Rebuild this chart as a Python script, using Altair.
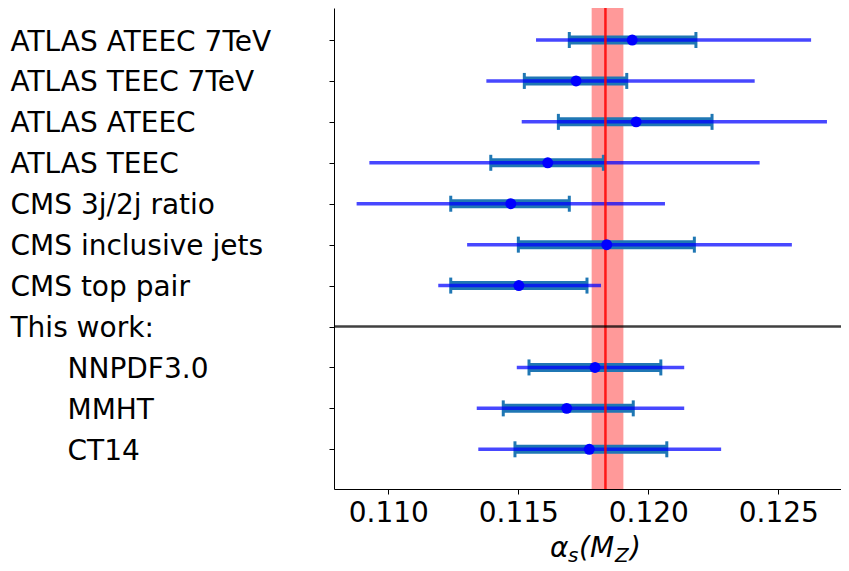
import json
import altair as alt
import pandas as pd

# ---- data ----
row_labels = ["ATLAS ATEEC 7TeV", "ATLAS TEEC 7TeV", "ATLAS ATEEC", "ATLAS TEEC",
              "CMS 3j/2j ratio", "CMS inclusive jets", "CMS top pair", "This work:",
              "NNPDF3.0", "MMHT", "CT14"]
sub_rows = ["NNPDF3.0", "MMHT", "CT14"]
separator_row = "This work:"

meas_names = ["ATLAS ATEEC 7TeV", "ATLAS TEEC 7TeV", "ATLAS ATEEC", "ATLAS TEEC",
              "CMS 3j/2j ratio", "CMS inclusive jets", "CMS top pair",
              "NNPDF3.0", "MMHT", "CT14"]
central = [0.11938, 0.11722, 0.11953, 0.11613, 0.11471, 0.11840, 0.11502, 0.11795, 0.11686, 0.11773]
inner_lo = [0.11696, 0.11523, 0.11654, 0.11394, 0.11240, 0.11500, 0.11240, 0.11541, 0.11442, 0.11487]
inner_hi = [0.12183, 0.11917, 0.12245, 0.11827, 0.11696, 0.12177, 0.11764, 0.12048, 0.11942, 0.12071]
outer_lo = [0.11568, 0.11377, 0.11513, 0.10927, 0.10878, 0.11303, 0.11192, 0.11494, 0.11340, 0.11346]
outer_hi = [0.12626, 0.12409, 0.12687, 0.12428, 0.12064, 0.12552, 0.11818, 0.12138, 0.12138, 0.12280]

world_avg = 0.11835
world_lo = 0.11782
world_hi = 0.11904

x_ticks = [0.110, 0.115, 0.120, 0.125]
x_domain = [0.10791, 0.12741]

df = pd.DataFrame({
    "name": meas_names,
    "row": [row_labels.index(n) for n in meas_names],
    "c": central, "ilo": inner_lo, "ihi": inner_hi, "olo": outer_lo, "ohi": outer_hi,
})
band_df = pd.DataFrame({"lo": [world_lo], "hi": [world_hi], "c": [world_avg]})
sep_df = pd.DataFrame({"row": [row_labels.index(separator_row)]})

# ---- styling ----
FONT = "DejaVu Sans"
W, H = 507, 481
y_domain = [-0.782, 10.97]

label_arr = "[" + ",".join(json.dumps(l) for l in row_labels) + "]"
sub_idx = [row_labels.index(s) for s in sub_rows]
sub_test = " || ".join(f"datum.value == {i}" for i in sub_idx)

xs = alt.Scale(domain=x_domain, nice=False, zero=False)
ys = alt.Scale(domain=y_domain, nice=False, zero=False, reverse=True)

x_axis = alt.Axis(values=x_ticks, format=".3f", title="", grid=False,
                  labelFont=FONT, labelFontSize=28, labelColor="black",
                  labelPadding=5, tickSize=5, tickColor="black", domainColor="black",
                  labelFlush=False)
y_axis = alt.Axis(values=list(range(len(row_labels))), labelExpr=label_arr + "[datum.value]",
                  title="", grid=False, labelFont=FONT, labelFontSize=28, labelColor="black",
                  labelAlign="left", labelBaseline="middle", labelOffset=2,
                  labelPadding={"condition": {"test": sub_test, "value": 262}, "value": 319},
                  tickSize=5, tickColor="black", domainColor="black", labelLimit=400)

base = alt.Chart(df)

band = alt.Chart(band_df).mark_rect(color="#ff0000", opacity=0.4).encode(
    x=alt.X("lo:Q", scale=xs, axis=x_axis), x2="hi:Q")

thick = base.mark_rule(color="#1f77b4", strokeWidth=9).encode(
    x=alt.X("ilo:Q", scale=xs), x2="ihi:Q",
    y=alt.Y("row:Q", scale=ys, axis=y_axis))
caps_lo = base.mark_tick(orient="vertical", color="#1f77b4", size=16, thickness=3, opacity=1).encode(
    x=alt.X("ilo:Q", scale=xs), y=alt.Y("row:Q", scale=ys))
caps_hi = base.mark_tick(orient="vertical", color="#1f77b4", size=16, thickness=3, opacity=1).encode(
    x=alt.X("ihi:Q", scale=xs), y=alt.Y("row:Q", scale=ys))
thin = base.mark_rule(color="#0000ff", strokeWidth=3.5, opacity=0.72).encode(
    x=alt.X("olo:Q", scale=xs), x2="ohi:Q", y=alt.Y("row:Q", scale=ys))
red = alt.Chart(band_df).mark_rule(color="#ff0000", strokeWidth=2.5, opacity=0.85).encode(
    x=alt.X("c:Q", scale=xs))
pts = base.mark_point(filled=True, size=120, color="#0000ff", opacity=1).encode(
    x=alt.X("c:Q", scale=xs), y=alt.Y("row:Q", scale=ys))
sep = alt.Chart(sep_df).mark_rule(color="black", strokeWidth=2.5, opacity=0.75).encode(
    y=alt.Y("row:Q", scale=ys))

# x-axis title alpha_s(M_Z) built from pieces (main / subscript)
title_pieces = [("α", 216, 549, 28), ("s", 234, 554, 20), ("(M", 245, 549, 28),
                ("Z", 281, 554, 20), (")", 296, 549, 28)]
one = pd.DataFrame({"k": [0]})
title_layers = [
    alt.Chart(one).mark_text(text=t, font=FONT, fontSize=fs, fontStyle="italic",
                             align="left", baseline="alphabetic", color="black").encode(
        x=alt.value(px), y=alt.value(py))
    for t, px, py, fs in title_pieces
]

chart = alt.layer(band, thick, caps_lo, caps_hi, thin, red, pts, sep, *title_layers).properties(
    width=W, height=H,
    background="white",
    autosize=alt.AutoSizeParams(type="none"),
    padding={"left": 326, "top": 0, "right": 0, "bottom": 82},
).configure_view(stroke="transparent", strokeWidth=0)

chart.save("out.html", embed_options={"renderer": "svg", "actions": False})
